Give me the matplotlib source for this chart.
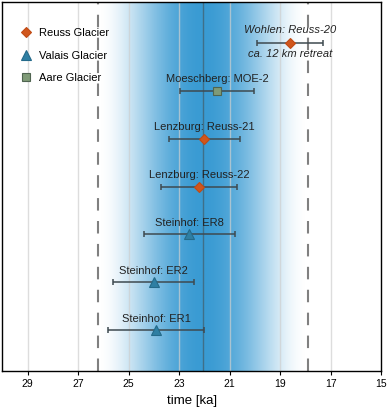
import numpy as np
import matplotlib.pyplot as plt
from matplotlib.colors import LinearSegmentedColormap

plt.rcParams['font.family'] = ['Liberation Sans', 'DejaVu Sans']

# sample ages [ka] with 1-sigma errors, top to bottom
labels = ['Wohlen: Reuss-20', 'Moeschberg: MOE-2', 'Lenzburg: Reuss-21',
          'Lenzburg: Reuss-22', 'Steinhof: ER8', 'Steinhof: ER2', 'Steinhof: ER1']
ages = [18.6, 21.5, 22.0, 22.2, 22.6, 24.0, 23.9]
errs = [1.3, 1.45, 1.4, 1.5, 1.8, 1.6, 1.9]
glacier = ['Reuss', 'Aare', 'Reuss', 'Reuss', 'Valais', 'Valais', 'Valais']

lgm_mean = 22.05
lgm_bounds = [26.2, 17.9]
ticks = [29, 27, 25, 23, 21, 19, 17, 15]

styles = {
    'Reuss': dict(marker='D', color='#d0561c', ms=5.5, mec='#c04a14'),
    'Valais': dict(marker='^', color='#2f7fa3', ms=7, mec='#246a8a'),
    'Aare': dict(marker='s', color='#7f9a77', ms=6, mec='#4f6450'),
}
legend_names = {'Reuss': 'Reuss Glacier', 'Valais': 'Valais Glacier', 'Aare': 'Aare Glacier'}

fig = plt.figure(figsize=(3.87, 4.11), dpi=100)
ax = fig.add_axes([0.006, 0.097, 0.979, 0.898])

ax.set_xlim(30, 15)
ax.set_ylim(0.147, 7.85)

# blue gradient around the mean, fading out towards the dashed bounds
xs = np.linspace(30, 15, 1200)
half = (lgm_bounds[0] - lgm_bounds[1]) / 2
d = np.clip(np.abs(xs - lgm_mean) / half, 0, 1)
prof = (1 - d ** 2) ** 2
cmap = LinearSegmentedColormap.from_list('b', ['#ffffff', '#3a9bd3'])
ax.imshow(prof[np.newaxis, :], cmap=cmap, vmin=0, vmax=1, aspect='auto',
          extent=[30, 15, 0.147, 7.85], zorder=0, interpolation='bilinear')

for t in ticks[:-1]:
    ax.axvline(t, color='#cfcfcf', lw=1, alpha=0.7, zorder=1)
ax.axvline(lgm_mean, color='#3f6f88', lw=1, zorder=1)
for b in lgm_bounds:
    ax.axvline(b, color='#808080', lw=1.5, dashes=(6, 5), zorder=1)

n = len(labels)
for i, (lab, a, e, g) in enumerate(zip(labels, ages, errs, glacier)):
    y = n - i
    st = styles[g]
    ax.errorbar(a, y, xerr=e, fmt='none', ecolor='#3e4a50', elinewidth=1.1,
                capsize=2.5, capthick=1.1, zorder=3)
    ax.plot(a, y, ls='none', marker=st['marker'], color=st['color'],
            ms=st['ms'], mec=st['mec'], mew=0.8, zorder=4)
    if i == 0:
        ax.text(a, y + 0.27, lab, ha='center', va='center', fontsize=8,
                style='italic', color='#222222')
        ax.text(a, y - 0.24, 'ca. 12 km retreat', ha='center', va='center',
                fontsize=8, style='italic', color='#222222')
    else:
        ax.text(a, y + 0.24, lab, ha='center', va='center', fontsize=8,
                color='#222222')

# legend
for j, g in enumerate(['Reuss', 'Valais', 'Aare']):
    st = styles[g]
    ax.plot([], [], ls='none', marker=st['marker'], color=st['color'],
            ms=st['ms'], mec=st['mec'], mew=0.8, label=legend_names[g])
ax.legend(loc='upper left', bbox_to_anchor=(0.02, 0.95), frameon=False,
          fontsize=8, handletextpad=0.45, labelspacing=1.1,
          borderaxespad=0.3, handlelength=1.5)

ax.set_xticks(ticks)
ax.set_xticklabels([str(t) for t in ticks], fontsize=7.5)
ax.tick_params(axis='x', direction='out', length=3, width=0.8, pad=3)
ax.set_yticks([])
ax.set_xlabel('time [ka]', fontsize=9.5, labelpad=4)
for s in ax.spines.values():
    s.set_linewidth(1)

fig.savefig('out.png', dpi=100)
